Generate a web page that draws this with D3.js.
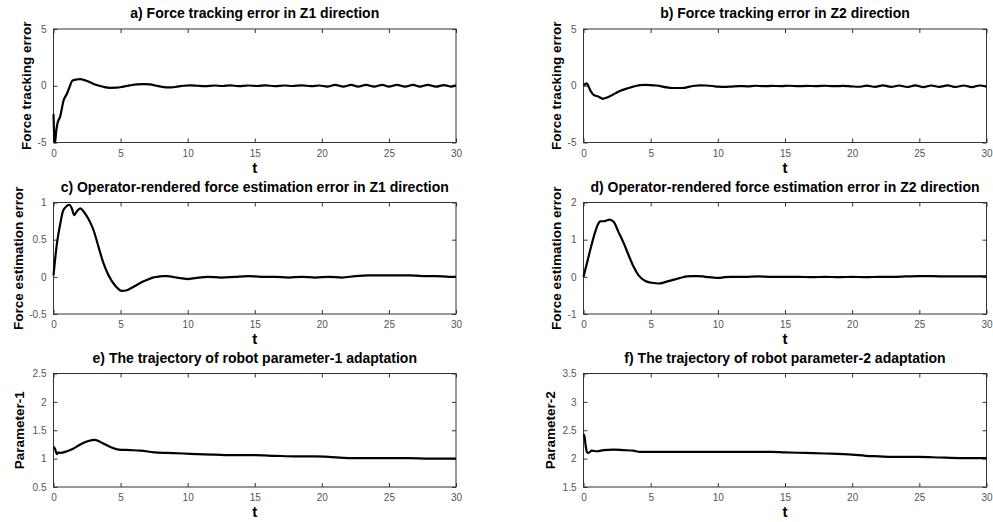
<!DOCTYPE html>
<html><head><meta charset="utf-8">
<script src="https://cdn.jsdelivr.net/npm/d3@7"></script>
<style>
html,body{margin:0;padding:0;background:#fff;}
svg{display:block;font-family:"Liberation Sans",Arial,sans-serif;}
</style></head>
<body><svg id="c" width="993" height="522"></svg>
<script>
// ---- data ----
const timeTicks = [0, 5, 10, 15, 20, 25, 30];
const titles = [
  "a) Force tracking error in Z1 direction",
  "b) Force tracking error in Z2 direction",
  "c) Operator-rendered force estimation error in Z1 direction",
  "d) Operator-rendered force estimation error in Z2 direction",
  "e) The trajectory of robot parameter-1 adaptation",
  "f) The trajectory of robot parameter-2 adaptation"
];
const yLabels = ["Force tracking error", "Force tracking error", "Force estimation error", "Force estimation error", "Parameter-1", "Parameter-2"];
const yDomains = [[-5, 5], [-5, 5], [-0.5, 1], [-1, 2], [0.5, 2.5], [1.5, 3.5]];
const yTicks = [[-5, 0, 5], [-5, 0, 5], [-0.5, 0, 0.5, 1], [-1, 0, 1, 2], [0.5, 1, 1.5, 2, 2.5], [1.5, 2, 2.5, 3, 3.5]];

// [t, value]
const errZ1 = [[0,-2.5],[0.08,-4.9],[0.12,-5.0],[0.2,-4.0],[0.3,-3.3],[0.5,-2.7],[0.75,-1.3],[1.0,-0.7],[1.2,-0.1],[1.4,0.45],[1.7,0.55],[2.0,0.58],[2.3,0.5],[2.6,0.38],[3.0,0.15],[3.4,0.0],[3.8,-0.12],[4.2,-0.18],[4.7,-0.17],[5.2,-0.08],[5.7,0.03],[6.2,0.12],[6.7,0.15],[7.2,0.12],[7.6,0.02],[8.0,-0.08],[8.4,-0.14],[8.8,-0.15],[9.2,-0.08],[9.7,0.0],[10.2,0.03],[10.7,0.0],[11.3,-0.03],[12.0,0.02],[12.6,-0.02],[13.2,0.03],[13.8,-0.03],[14.5,0.02],[15.2,-0.02],[15.8,0.03],[16.5,-0.03],[17.2,0.02],[17.8,-0.02],[18.5,0.03],[19.2,-0.03],[19.8,0.02],[20.4,-0.07],[21.0,0.08],[21.6,-0.07],[22.2,0.08],[22.7,-0.08],[23.3,0.07],[23.9,-0.07],[24.5,0.08],[25.0,-0.08],[25.6,0.07],[26.2,-0.07],[26.8,0.08],[27.3,-0.07],[27.9,0.07],[28.5,-0.08],[29.1,0.06],[29.6,-0.07],[30,0.03]];
const errZ2 = [[0,0.05],[0.15,0.15],[0.25,0.22],[0.37,-0.05],[0.55,-0.5],[0.75,-0.8],[1.1,-0.95],[1.45,-1.15],[1.7,-1.05],[2.0,-0.9],[2.4,-0.65],[2.75,-0.45],[3.1,-0.3],[3.5,-0.15],[3.9,-0.02],[4.2,0.05],[4.6,0.07],[5.0,0.06],[5.4,0.02],[5.8,-0.05],[6.2,-0.15],[6.6,-0.2],[7.0,-0.2],[7.5,-0.18],[7.9,-0.08],[8.3,0.0],[8.7,0.03],[9.1,0.02],[9.6,-0.02],[10.0,-0.08],[10.5,-0.1],[11.0,-0.07],[11.6,-0.03],[12.2,-0.05],[12.8,0.0],[13.4,-0.04],[14.0,-0.01],[14.7,-0.03],[15.3,0.0],[16.0,-0.04],[16.6,-0.01],[17.3,-0.03],[18.0,0.0],[18.6,-0.04],[19.3,-0.01],[19.9,-0.05],[20.5,-0.09],[21.1,0.01],[21.7,-0.1],[22.3,0.03],[22.9,-0.1],[23.5,0.02],[24.1,-0.11],[24.7,0.03],[25.3,-0.12],[25.9,0.02],[26.5,-0.1],[27.1,0.03],[27.7,-0.11],[28.3,0.02],[28.9,-0.12],[29.5,0.02],[30,-0.08]];
const estZ1 = [[0,0.02],[0.25,0.44],[0.5,0.71],[0.7,0.88],[0.87,0.93],[1.17,0.97],[1.37,0.92],[1.54,0.83],[1.74,0.88],[2.0,0.92],[2.24,0.88],[2.6,0.78],[3.0,0.62],[3.36,0.40],[3.73,0.18],[4.1,0.02],[4.6,-0.12],[5.1,-0.19],[5.47,-0.18],[5.8,-0.15],[6.2,-0.11],[6.6,-0.07],[7.0,-0.04],[7.4,-0.01],[7.7,0.0],[8.1,0.01],[8.5,0.01],[8.9,0.0],[9.2,-0.01],[9.6,-0.02],[10.0,-0.03],[10.4,-0.02],[10.8,-0.01],[11.5,0.0],[12.5,-0.01],[13.5,0.0],[14.5,0.01],[15.5,0.0],[16.5,0.0],[17.5,-0.01],[18.5,0.0],[19.5,-0.01],[20.5,0.0],[21.5,-0.01],[22.5,0.01],[23.5,0.02],[24.5,0.02],[25.5,0.02],[26.5,0.02],[27.5,0.01],[28.5,0.01],[29.5,0.0],[30,0.0]];
const estZ2 = [[0,0],[0.25,0.36],[0.5,0.72],[0.87,1.21],[1.1,1.43],[1.24,1.49],[1.6,1.5],[1.94,1.54],[2.24,1.48],[2.6,1.21],[3.0,0.9],[3.36,0.58],[3.73,0.27],[4.1,0.04],[4.6,-0.11],[5.1,-0.16],[5.6,-0.18],[6.2,-0.13],[6.6,-0.09],[7.0,-0.05],[7.4,-0.01],[7.7,0.01],[8.1,0.02],[8.5,0.02],[8.9,0.01],[9.3,-0.01],[9.7,-0.02],[10.0,-0.03],[10.5,-0.01],[11.0,0.0],[12,0.0],[13,0.01],[14,0.0],[15,0.0],[16,0.0],[17,-0.01],[18,0.0],[19,-0.01],[20,0.0],[21,-0.01],[22,0.0],[23,0.0],[24,0.01],[25,0.02],[26,0.02],[27,0.01],[28,0.01],[29,0.01],[30,0.01]];
const param1 = [[0,1.21],[0.1,1.18],[0.25,1.08],[0.37,1.11],[0.5,1.1],[1.0,1.13],[1.5,1.18],[2.0,1.25],[2.6,1.31],[3.1,1.33],[3.6,1.28],[4.2,1.21],[4.85,1.16],[5.7,1.15],[6.5,1.14],[7.5,1.11],[8.5,1.1],[9.7,1.09],[10.7,1.08],[12,1.07],[13.5,1.06],[15,1.06],[16.5,1.05],[18,1.04],[19.5,1.04],[20.5,1.03],[22,1.01],[23.5,1.01],[25,1.01],[26.5,1.01],[28,1.0],[30,1.0]];
const param2 = [[0,2.43],[0.07,2.4],[0.15,2.25],[0.25,2.12],[0.37,2.1],[0.62,2.14],[1.0,2.13],[1.5,2.15],[2.24,2.16],[3.0,2.15],[3.7,2.14],[4.2,2.12],[6,2.12],[8,2.12],[10,2.12],[12,2.12],[14,2.12],[15,2.11],[16.5,2.1],[18,2.09],[20,2.07],[21,2.05],[22,2.04],[23,2.03],[25,2.03],[26.5,2.02],[28,2.01],[30,2.01]];
const seriesList = [errZ1, errZ2, estZ1, estZ2, param1, param2];

// ---- layout ----
const colX = [[53.5, 456], [583.5, 986.5]];
const rowY = [[29, 142.5], [202.5, 314], [373.5, 487]];
const yLabelOffset = [27, 27, 35, 27, 34, 33];

const svg = d3.select("#c");

seriesList.forEach((data, i) => {
  const col = i % 2, row = Math.floor(i / 2);
  const [x0, x1] = colX[col];
  const [y0, y1] = rowY[row];
  const x = d3.scaleLinear().domain([0, 30]).range([x0, x1]);
  const y = d3.scaleLinear().domain(yDomains[i]).range([y1, y0]);
  const g = svg.append("g");

  g.append("rect").attr("x", x0).attr("y", y0).attr("width", x1 - x0).attr("height", y1 - y0)
    .attr("fill", "#fff").attr("stroke", "#333").attr("stroke-width", 1);

  const fmt = d => String(d);
  const tickStyle = sel => {
    sel.select(".domain").remove();
    sel.selectAll(".tick line").attr("stroke", "#333");
    sel.selectAll(".tick text").attr("fill", "#555").attr("font-size", "10px")
      .attr("font-family", "'Liberation Sans', Arial, sans-serif");
  };
  g.append("g").attr("transform", `translate(0,${y1})`)
    .call(d3.axisBottom(x).tickValues(timeTicks).tickFormat(fmt).tickSizeInner(-4).tickSizeOuter(0).tickPadding(7))
    .call(tickStyle);
  g.append("g").attr("transform", `translate(0,${y0})`)
    .call(d3.axisTop(x).tickValues(timeTicks).tickFormat("").tickSizeInner(-4).tickSizeOuter(0))
    .call(tickStyle);
  g.append("g").attr("transform", `translate(${x0},0)`)
    .call(d3.axisLeft(y).tickValues(yTicks[i]).tickFormat(fmt).tickSizeInner(-4).tickSizeOuter(0).tickPadding(7))
    .call(tickStyle);
  g.append("g").attr("transform", `translate(${x1},0)`)
    .call(d3.axisRight(y).tickValues(yTicks[i]).tickFormat("").tickSizeInner(-4).tickSizeOuter(0))
    .call(tickStyle);

  const line = d3.line().x(d => x(d[0])).y(d => y(d[1])).curve(d3.curveMonotoneX);
  g.append("path").datum(data).attr("d", line)
    .attr("fill", "none").attr("stroke", "#000").attr("stroke-width", 2.2)
    .attr("stroke-linejoin", "round");

  g.append("text").attr("x", (x0 + x1) / 2).attr("y", y0 - 11)
    .attr("text-anchor", "middle").attr("font-size", "14px").attr("font-weight", "bold")
    .attr("fill", "#000").text(titles[i]);
  g.append("text").attr("x", (x0 + x1) / 2).attr("y", y1 + 30)
    .attr("text-anchor", "middle").attr("font-size", "15px").attr("font-weight", "bold")
    .attr("fill", "#000").text("t");
  const lx = x0 - yLabelOffset[i], ly = (y0 + y1) / 2;
  g.append("text").attr("transform", `translate(${lx},${ly}) rotate(-90)`)
    .attr("text-anchor", "middle").attr("dominant-baseline", "central")
    .attr("font-size", "13.5px").attr("font-weight", "bold")
    .attr("fill", "#000").text(yLabels[i]);
});
</script></body></html>
